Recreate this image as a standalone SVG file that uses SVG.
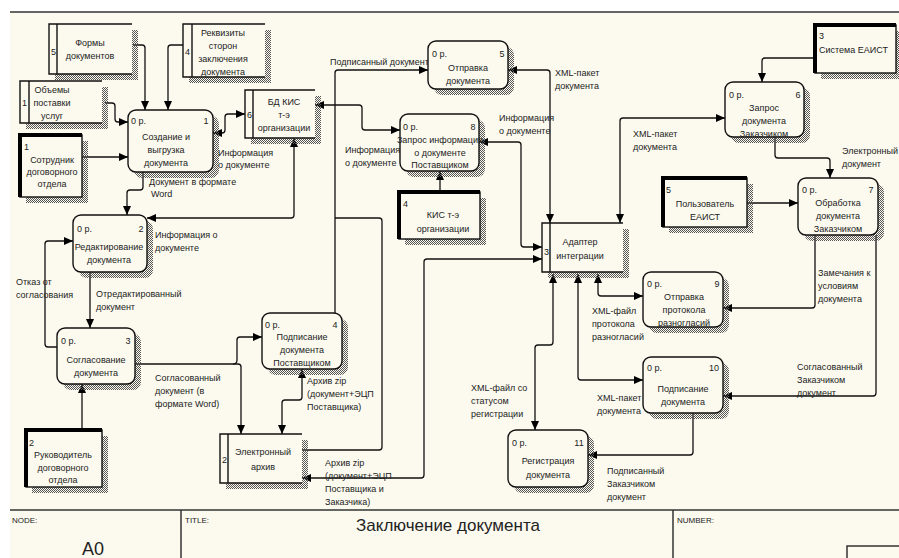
<svg xmlns="http://www.w3.org/2000/svg" width="899" height="558" viewBox="0 0 899 558">
<defs>
<pattern id="hatch" width="2" height="2" patternUnits="userSpaceOnUse">
<rect x="0" y="0" width="1" height="1" fill="#555"/>
<rect x="1" y="1" width="1" height="1" fill="#555"/>
</pattern>
<marker id="ar" viewBox="0 0 9 8" refX="9" refY="4" markerWidth="9" markerHeight="8" markerUnits="userSpaceOnUse" orient="auto-start-reverse">
<path d="M0,0 L9,4 L0,8 z" fill="#000"/>
</marker>
<style>
.t{font-family:"Liberation Sans",Arial,sans-serif;font-size:9px;fill:#222}
.c{text-anchor:middle}
.ln{fill:none;stroke:#111;stroke-width:1.3;stroke-linejoin:round}
.e{marker-end:url(#ar)}
.b{marker-start:url(#ar);marker-end:url(#ar)}
.box{fill:#fcfaef;stroke:#111;stroke-width:1.4}
.sh{fill:url(#hatch)}
.ds{fill:none;stroke:#111;stroke-width:1.4}
.thick{stroke:#000;stroke-width:4;fill:none}
.fr{stroke:#333;stroke-width:1.5;fill:none}
.big{font-family:"Liberation Sans",Arial,sans-serif;fill:#222}
</style>
</defs>
<rect x="0" y="0" width="899" height="558" fill="#ffffff"/>
<rect x="10" y="12" width="889" height="546" fill="#fcfaef"/>
<line x1="10" y1="12" x2="899" y2="12" class="fr"/>

<!-- frame -->
<g id="frame">
<line x1="10" y1="510" x2="899" y2="510" class="fr"/>
<line x1="181" y1="510" x2="181" y2="558" class="fr"/>
<line x1="673" y1="510" x2="673" y2="558" class="fr"/>
<path d="M899,546 H847 V558" class="fr"/>
<text x="12" y="523" class="t" style="font-size:8px">NODE:</text>
<text x="185" y="523" class="t" style="font-size:8px">TITLE:</text>
<text x="677" y="523" class="t" style="font-size:8px">NUMBER:</text>
<text x="93" y="555" class="big c" style="font-size:18px">A0</text>
<text x="448" y="531" class="big c" style="font-size:17px">Заключение документа</text>
</g>

<!-- connectors -->
<g id="connectors">
<path class="ln e" d="M133,45 H142 Q145,45 145,48 V110"/>
<path class="ln e" d="M183,45 H171 Q168,45 168,48 V110"/>
<path class="ln e" d="M105,103 H112 Q115,103 115,106 V119 Q115,122 118,122 H128"/>
<path class="ln e" d="M82,157 H128"/>
<path class="ln b" d="M213,133 H222 Q225,133 225,130 V117 Q225,114 228,114 H245"/>
<path class="ln e" d="M143,172 V187 Q143,190 140,190 H130 Q127,190 127,193 V215"/>
<path class="ln b" d="M294,138 V215 Q294,218 291,218 H147"/>
<path class="ln e" d="M90,272 V328"/>
<path class="ln e" d="M57,347 H48 Q45,347 45,344 V244 Q45,241 48,241 H73"/>
<path class="ln e" d="M82,430 V384"/>
<path class="ln e" d="M135,364 H238 Q241,364 241,367 V434"/>
<path class="ln e" d="M233,364 Q237,364 237,360 V340 Q237,337 240,337 H262"/>
<path class="ln b" d="M302,369 V397 Q302,400 299,400 H285 Q282,400 282,403 V434"/>
<path class="ln e" d="M335,313 V73 Q335,70 338,70 H428"/>
<path class="ln" d="M302,450 H379 Q382,450 382,447 V221 Q382,218 379,218 H335"/>
<path class="ln b" d="M302,478 H421 Q424,478 424,475 V262 Q424,259 427,259 H542"/>
<path class="ln b" d="M508,70 H547 Q550,70 550,73 V223"/>
<path class="ln b" d="M315,105 H359 Q362,105 362,108 V127 Q362,130 365,130 H400"/>
<path class="ln e" d="M440,192 V171"/>
<path class="ln b" d="M479,142 H518 Q521,142 521,145 V244 Q521,247 524,247 H542"/>
<path class="ln b" d="M620,223 V121 Q620,118 623,118 H725"/>
<path class="ln e" d="M815,58 H765 Q762,58 762,61 V82"/>
<path class="ln e" d="M775,137 V155 Q775,158 778,158 H827 Q830,158 830,161 V178"/>
<path class="ln e" d="M747,203 H798"/>
<path class="ln e" d="M815,235 V305 Q815,308 812,308 H723"/>
<path class="ln b" d="M598,274 V293 Q598,296 601,296 H643"/>
<path class="ln e" d="M876,235 V393 Q876,396 873,396 H723"/>
<path class="ln b" d="M578,274 V377 Q578,380 581,380 H643"/>
<path class="ln b" d="M553,274 V342 Q553,345 550,345 H538 Q535,345 535,348 V430"/>
<path class="ln e" d="M693,413 V452 Q693,455 690,455 H588"/>
</g>

<!-- connector labels -->
<g id="labels" class="t">
<text x="218" y="156">Информация</text><text x="218" y="168">о документе</text>
<text x="149" y="185">Документ в формате</text><text x="151" y="197">Word</text>
<text x="155" y="238">Информация о</text><text x="155" y="251">документе</text>
<text x="96" y="297">Отредактированный</text><text x="96" y="310">документ</text>
<text x="16" y="285">Отказ от</text><text x="16" y="298">согласования</text>
<text x="155" y="381">Согласованный</text><text x="155" y="394">документ (в</text><text x="155" y="407">формате Word)</text>
<text x="307" y="384">Архив zip</text><text x="307" y="397">(документ+ЭЦП</text><text x="307" y="410">Поставщика)</text>
<text x="330" y="65">Подписанный документ</text>
<text x="325" y="466">Архив zip</text><text x="325" y="479">(документ+ЭЦП</text><text x="325" y="492">Поставщика и</text><text x="325" y="505">Заказчика)</text>
<text x="555" y="76">XML-пакет</text><text x="555" y="89">документа</text>
<text x="345" y="153">Информация</text><text x="345" y="166">о документе</text>
<text x="499" y="121">Информация</text><text x="499" y="134">о документе</text>
<text x="633" y="137">XML-пакет</text><text x="633" y="150">документа</text>
<text x="842" y="154">Электронный</text><text x="842" y="167">документ</text>
<text x="818" y="276">Замечания к</text><text x="818" y="289">условиям</text><text x="818" y="302">документа</text>
<text x="592" y="314">XML-файл</text><text x="592" y="327">протокола</text><text x="592" y="340">разногласий</text>
<text x="797" y="370">Согласованный</text><text x="797" y="383">Заказчиком</text><text x="797" y="396">документ</text>
<text x="597" y="401">XML-пакет</text><text x="597" y="414">документа</text>
<text x="471" y="391">XML-файл со</text><text x="471" y="404">статусом</text><text x="471" y="417">регистрации</text>
<text x="607" y="474">Подписанный</text><text x="607" y="487">Заказчиком</text><text x="607" y="500">документ</text>
</g>

<!-- data stores -->
<g id="forms">
<rect x="55" y="30" width="83" height="50" class="sh"/>
<rect x="49" y="24" width="83" height="50" fill="#fcfaef"/>
<path d="M132,24 H49 V74 H132 M57,24 V74" class="ds"/>
<text x="51" y="55" class="t">5</text>
<text x="90" y="46" class="t c">Формы</text><text x="90" y="59" class="t c">документов</text>
</g>
<g id="requisites">
<rect x="189" y="30" width="82" height="53" class="sh"/>
<rect x="183" y="24" width="82" height="53" fill="#fcfaef"/>
<path d="M265,24 H183 V77 H265 M192,24 V77" class="ds"/>
<text x="185" y="55" class="t">4</text>
<text x="223" y="36" class="t c">Реквизиты</text><text x="223" y="49" class="t c">сторон</text><text x="223" y="62" class="t c">заключения</text><text x="223" y="75" class="t c">документа</text>
</g>
<g id="volumes">
<rect x="26" y="87" width="82" height="42" class="sh"/>
<rect x="20" y="81" width="82" height="42" fill="#fcfaef"/>
<path d="M102,81 H20 V123 H102 M29,81 V123" class="ds"/>
<text x="22" y="106" class="t">1</text>
<text x="52" y="93" class="t c">Объемы</text><text x="52" y="106" class="t c">поставки</text><text x="52" y="119" class="t c">услуг</text>
</g>
<g id="db">
<rect x="251" y="96" width="70" height="48" class="sh"/>
<rect x="245" y="90" width="70" height="48" fill="#fcfaef"/>
<path d="M315,90 H245 V138 H315 M253,90 V138" class="ds"/>
<text x="247" y="118" class="t">6</text>
<text x="284" y="105" class="t c">БД КИС</text><text x="284" y="118" class="t c">т-э</text><text x="284" y="131" class="t c">организации</text>
</g>
<g id="archive">
<rect x="226" y="440" width="82" height="49" class="sh"/>
<rect x="220" y="434" width="82" height="49" fill="#fcfaef"/>
<path d="M302,434 H220 V483 H302 M228,434 V483" class="ds"/>
<text x="222" y="463" class="t">2</text>
<text x="263" y="455" class="t c">Электронный</text><text x="263" y="470" class="t c">архив</text>
</g>
<g id="adapter">
<rect x="548" y="229" width="81" height="49" class="sh"/>
<rect x="542" y="223" width="81" height="49" fill="#fcfaef"/>
<path d="M623,223 H542 V272 H623 M550,223 V272" class="ds"/>
<text x="544" y="255" class="t">3</text>
<text x="580" y="245" class="t c">Адаптер</text><text x="580" y="259" class="t c">интеграции</text>
</g>

<!-- external entities -->
<g id="employee">
<rect x="26" y="141" width="62" height="62" class="sh"/>
<rect x="20" y="135" width="62" height="62" class="box"/>
<path d="M20,197 V135 H82" class="thick"/>
<text x="24" y="150" class="t">1</text>
<text x="52" y="163" class="t c">Сотрудник</text><text x="52" y="175" class="t c">договорного</text><text x="52" y="187" class="t c">отдела</text>
</g>
<g id="head">
<rect x="32" y="436" width="76" height="57" class="sh"/>
<rect x="26" y="430" width="76" height="57" class="box"/>
<path d="M26,487 V430 H102" class="thick"/>
<text x="29" y="446" class="t">2</text>
<text x="63" y="458" class="t c">Руководитель</text><text x="63" y="471" class="t c">договорного</text><text x="63" y="483" class="t c">отдела</text>
</g>
<g id="kis">
<rect x="405" y="198" width="81" height="47" class="sh"/>
<rect x="399" y="192" width="81" height="47" class="box"/>
<path d="M399,239 V192 H480" class="thick"/>
<text x="403" y="207" class="t">4</text>
<text x="443" y="218" class="t c">КИС т-э</text><text x="443" y="232" class="t c">организации</text>
</g>
<g id="eaist">
<rect x="821" y="31" width="78" height="48" class="sh"/>
<rect x="815" y="25" width="81" height="48" class="box"/>
<path d="M815,73 V25 H896" class="thick"/>
<text x="819" y="39" class="t">3</text>
<text x="819" y="53" class="t">Система ЕАИСТ</text>
</g>
<g id="user">
<rect x="669" y="184" width="84" height="49" class="sh"/>
<rect x="663" y="178" width="84" height="49" class="box"/>
<path d="M663,227 V178 H747" class="thick"/>
<text x="666" y="193" class="t">5</text>
<text x="705" y="207" class="t c">Пользователь</text><text x="705" y="220" class="t c">ЕАИСТ</text>
</g>

<!-- activities -->
<g id="a1">
<rect x="134" y="116" width="85" height="62" rx="8" class="sh"/>
<rect x="128" y="110" width="85" height="62" rx="8" class="box"/>
<text x="131" y="124" class="t">0 р.</text><text x="206" y="124" class="t c">1</text>
<text x="166" y="140" class="t c">Создание и</text><text x="166" y="153" class="t c">выгрузка</text><text x="166" y="166" class="t c">документа</text>
</g>
<g id="a2">
<rect x="79" y="221" width="74" height="57" rx="8" class="sh"/>
<rect x="73" y="215" width="74" height="57" rx="8" class="box"/>
<text x="77" y="232" class="t">0 р.</text><text x="141" y="232" class="t c">2</text>
<text x="109" y="250" class="t c">Редактирование</text><text x="109" y="263" class="t c">документа</text>
</g>
<g id="a3">
<rect x="63" y="334" width="78" height="56" rx="8" class="sh"/>
<rect x="57" y="328" width="78" height="56" rx="8" class="box"/>
<text x="61" y="344" class="t">0 р.</text><text x="128" y="344" class="t c">3</text>
<text x="96" y="363" class="t c">Согласование</text><text x="96" y="376" class="t c">документа</text>
</g>
<g id="a4">
<rect x="268" y="319" width="80" height="56" rx="8" class="sh"/>
<rect x="262" y="313" width="80" height="56" rx="8" class="box"/>
<text x="265" y="328" class="t">0 р.</text><text x="335" y="328" class="t c">4</text>
<text x="302" y="340" class="t c">Подписание</text><text x="302" y="353" class="t c">документа</text><text x="302" y="366" class="t c">Поставщиком</text>
</g>
<g id="a5">
<rect x="434" y="47" width="80" height="48" rx="8" class="sh"/>
<rect x="428" y="41" width="80" height="48" rx="8" class="box"/>
<text x="432" y="57" class="t">0 р.</text><text x="502" y="57" class="t c">5</text>
<text x="468" y="71" class="t c">Отправка</text><text x="468" y="84" class="t c">документа</text>
</g>
<g id="a8">
<rect x="406" y="120" width="79" height="57" rx="8" class="sh"/>
<rect x="400" y="114" width="79" height="57" rx="8" class="box"/>
<text x="403" y="130" class="t">0 р.</text><text x="473" y="130" class="t c">8</text>
<text x="440" y="143" class="t c">Запрос информации</text><text x="440" y="156" class="t c">о документе</text><text x="440" y="168" class="t c">Поставщиком</text>
</g>
<g id="a6">
<rect x="731" y="88" width="79" height="55" rx="8" class="sh"/>
<rect x="725" y="82" width="79" height="55" rx="8" class="box"/>
<text x="729" y="98" class="t">0 р.</text><text x="798" y="98" class="t c">6</text>
<text x="764" y="111" class="t c">Запрос</text><text x="764" y="124" class="t c">документа</text><text x="764" y="137" class="t c">Заказчиком</text>
</g>
<g id="a7">
<rect x="804" y="184" width="80" height="57" rx="8" class="sh"/>
<rect x="798" y="178" width="80" height="57" rx="8" class="box"/>
<text x="802" y="193" class="t">0 р.</text><text x="871" y="193" class="t c">7</text>
<text x="838" y="206" class="t c">Обработка</text><text x="838" y="219" class="t c">документа</text><text x="838" y="232" class="t c">Заказчиком</text>
</g>
<g id="a9">
<rect x="649" y="278" width="80" height="55" rx="8" class="sh"/>
<rect x="643" y="272" width="80" height="55" rx="8" class="box"/>
<text x="647" y="287" class="t">0 р.</text><text x="717" y="287" class="t c">9</text>
<text x="684" y="300" class="t c">Отправка</text><text x="684" y="313" class="t c">протокола</text><text x="684" y="326" class="t c">разногласий</text>
</g>
<g id="a10">
<rect x="649" y="363" width="80" height="56" rx="8" class="sh"/>
<rect x="643" y="357" width="80" height="56" rx="8" class="box"/>
<text x="647" y="371" class="t">0 р.</text><text x="714" y="371" class="t c">10</text>
<text x="683" y="392" class="t c">Подписание</text><text x="683" y="405" class="t c">документа</text>
</g>
<g id="a11">
<rect x="514" y="436" width="80" height="57" rx="8" class="sh"/>
<rect x="508" y="430" width="80" height="57" rx="8" class="box"/>
<text x="512" y="446" class="t">0 р.</text><text x="579" y="446" class="t c">11</text>
<text x="548" y="464" class="t c">Регистрация</text><text x="548" y="478" class="t c">документа</text>
</g>
</svg>
